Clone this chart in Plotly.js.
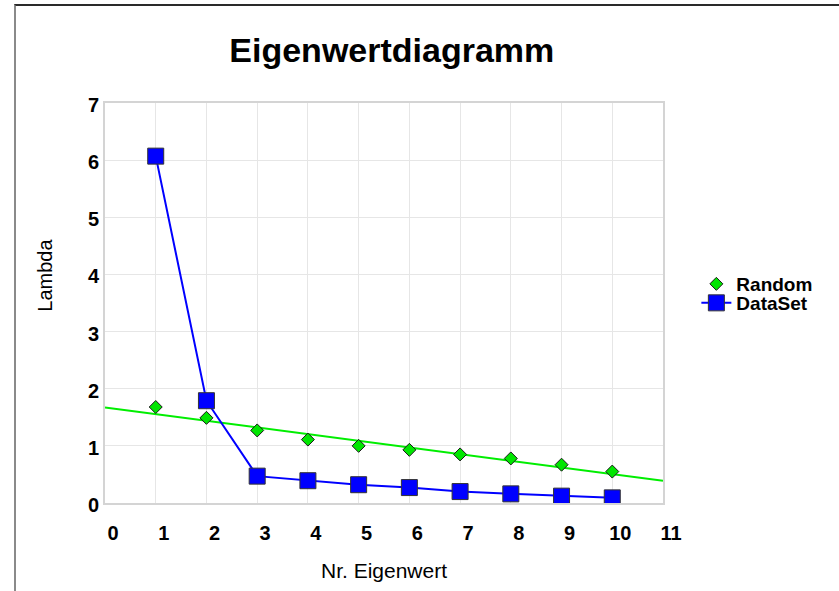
<!DOCTYPE html>
<html>
<head>
<meta charset="utf-8">
<script src="https://cdn.plot.ly/plotly-3.0.1.min.js"></script>
<style>
  html, body { margin: 0; padding: 0; background: #fff; overflow: hidden; }
  #chart { width: 839px; height: 591px; }
  #frame { position: absolute; left: 14px; top: 4px; width: 1000px; height: 1000px;
           border-left: 2px solid #8a8a8a; border-top: 2px solid #2a2a2a; pointer-events: none; }
</style>
</head>
<body>
<div id="chart"></div>
<div id="frame"></div>
<script>
const eigenNr = [1, 2, 3, 4, 5, 6, 7, 8, 9, 10];
const datasetValues = [6.07, 1.79, 0.47, 0.39, 0.32, 0.27, 0.20, 0.16, 0.12, 0.09];
const randomValues = [1.68, 1.49, 1.27, 1.11, 1.00, 0.93, 0.85, 0.78, 0.67, 0.55];
const trendX = [0, 11];
const trendY = [1.67, 0.39];
const xTicks = [0, 1, 2, 3, 4, 5, 6, 7, 8, 9, 10, 11];
const yTicks = [0, 1, 2, 3, 4, 5, 6, 7];

const FONT = 'Liberation Sans, Arial, sans-serif';

const traces = [
  {
    x: trendX, y: trendY, mode: 'lines', showlegend: false, hoverinfo: 'skip',
    line: { color: '#00ee00', width: 2 }
  },
  {
    x: eigenNr, y: randomValues, mode: 'markers', name: 'Random', legend: 'legend',
    marker: { symbol: 'diamond', size: 10, color: '#00e600', line: { color: '#1a1a1a', width: 1 } }
  },
  {
    x: eigenNr, y: datasetValues, mode: 'lines+markers', name: 'DataSet', legend: 'legend2',
    line: { color: '#0000ff', width: 2 },
    marker: { symbol: 'square', size: 16, color: '#0000ff', line: { color: '#333333', width: 1 } }
  }
];

const legendFont = { size: 19, family: FONT, weight: 'bold', color: '#000' };

const layout = {
  width: 839, height: 591,
  margin: { l: 105, r: 176, t: 103, b: 88 },
  paper_bgcolor: '#ffffff', plot_bgcolor: '#ffffff',
  font: { family: FONT, color: '#000' },
  title: {
    text: '<b>Eigenwertdiagramm</b>',
    font: { size: 34, family: FONT, color: '#000' },
    x: 0.467, xanchor: 'center', y: 0.915, yanchor: 'middle'
  },
  xaxis: {
    range: [0, 11], tickvals: xTicks, ticktext: xTicks.map(String),
    showgrid: true, gridcolor: '#e6e6e6', gridwidth: 1,
    showline: true, linecolor: '#d4d4d4', linewidth: 2, mirror: true,
    zeroline: false, ticks: '', ticklabelstandoff: 11, ticklabelshift: 8,
    tickfont: { size: 20, family: FONT, weight: 'bold', color: '#000' },
    title: { text: 'Nr. Eigenwert', font: { size: 21, family: FONT, color: '#000' }, standoff: 20 }
  },
  yaxis: {
    range: [0, 7], tickvals: yTicks, ticktext: yTicks.map(String),
    showgrid: true, gridcolor: '#e6e6e6', gridwidth: 1,
    showline: true, linecolor: '#d4d4d4', linewidth: 2, mirror: true,
    zeroline: false, ticks: '', ticklabelstandoff: 0, ticklabelshift: 2,
    tickfont: { size: 20, family: FONT, weight: 'bold', color: '#000' }
  },
  annotations: [
    {
      text: 'Lambda', xref: 'paper', yref: 'paper',
      x: -0.108, y: 0.57, xanchor: 'center', yanchor: 'middle',
      textangle: -90, showarrow: false,
      font: { size: 20, family: FONT, color: '#000' }
    }
  ],
  legend: {
    xref: 'container', yref: 'container',
    x: 0.83, y: 1 - 284 / 591, xanchor: 'left', yanchor: 'middle',
    bgcolor: 'rgba(0,0,0,0)', borderwidth: 0, font: legendFont, itemwidth: 30
  },
  legend2: {
    xref: 'container', yref: 'container',
    x: 0.83, y: 1 - 303 / 591, xanchor: 'left', yanchor: 'middle',
    bgcolor: 'rgba(0,0,0,0)', borderwidth: 0, font: legendFont, itemwidth: 30
  },
  showlegend: true
};

Plotly.newPlot('chart', traces, layout, { displayModeBar: false, staticPlot: true });
</script>
</body>
</html>
